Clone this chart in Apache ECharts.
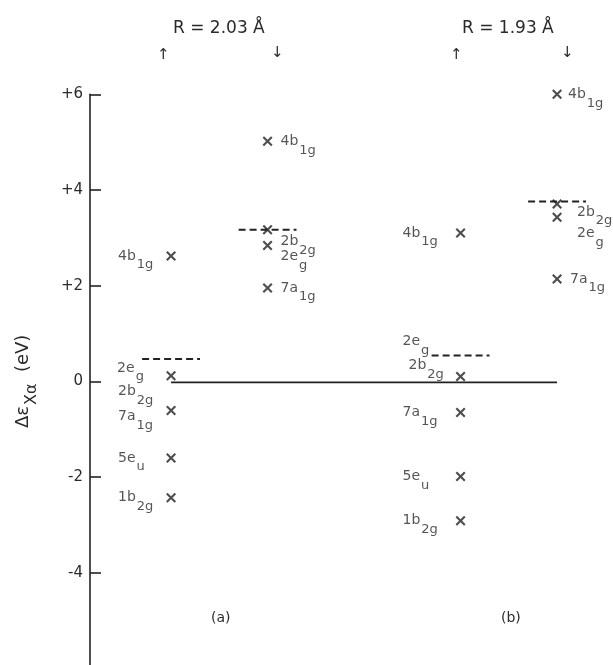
<!DOCTYPE html>
<html>
<head>
<meta charset="utf-8">
<script src="https://cdn.jsdelivr.net/npm/echarts@6/dist/echarts.min.js"></script>
<style>
  html, body { margin: 0; padding: 0; background: #fff; }
  #chart { width: 613px; height: 665px; }
</style>
</head>
<body>
<div id="chart"></div>
<script>
// column positions on the hidden x axis: (a) up, (a) down, (b) up, (b) down
const columns = [1, 2, 4, 5];

// orbital levels (eV)
const levelsAUp = [2.62, 0.12, -0.61, -1.60, -2.43];
const namesAUp = ['4b_1g', '2b_2g', '7a_1g', '5e_u', '1b_2g'];
const levelsADown = [5.02, 3.17, 2.84, 1.95];
const namesADown = ['4b_1g', '2b_2g', '2e_g', '7a_1g'];
const levelsBUp = [3.10, 0.10, -0.65, -1.99, -2.91];
const namesBUp = ['4b_1g', '2b_2g', '7a_1g', '5e_u', '1b_2g'];
const levelsBDown = [6.00, 3.71, 3.43, 2.14];
const namesBDown = ['4b_1g', '2b_2g', '2e_g', '7a_1g'];

// dashed levels, one per column
const dashedLevels = [0.47, 3.17, 0.54, 3.76];
const dashedNames = ['2e_g', '', '2e_g', ''];
const zeroLevel = -0.02;

const yTicks = [-6, -4, -2, 0, 2, 4, 6];

// label offsets in px relative to the mark
const offsAUp = [[-53, 0], [-53, 16], [-53, 6], [-53, 0], [-53, 0]];
const offsADown = [[13, 0], [13, 12], [13, 11], [13, 0]];
const offsBUp = [[-58, 0], [-52, -11], [-58, 0], [-58, 0], [-58, 0]];
const offsBDown = [[11, 0], [20, 8], [20, 16], [13, 0]];
const offsDashed = [[-25, 9], [0, 0], [-29, -14], [0, 0]];

const ink = '#222';
const font = 'DejaVu Sans';

function richName(n) {
  if (!n) return '';
  const p = n.split('_');
  return '{m|' + p[0] + '}{s|' + p[1] + '}';
}

const rich = {
  m: { fontSize: 14, fontFamily: font, color: '#2a2a2a' },
  s: { fontSize: 13, fontFamily: font, color: '#2a2a2a', padding: [18, 0, 0, 1] }
};

function markData(col, vals, names, offs) {
  return vals.map((v, i) => ({
    value: [col, v],
    name: names[i],
    label: { offset: offs[i] }
  }));
}

const marks = [].concat(
  markData(columns[0], levelsAUp, namesAUp, offsAUp),
  markData(columns[1], levelsADown, namesADown, offsADown),
  markData(columns[2], levelsBUp, namesBUp, offsBUp),
  markData(columns[3], levelsBDown, namesBDown, offsBDown)
);

const halfWidth = 0.3;
const dashedSeries = dashedLevels.map((v, i) => ({
  type: 'line',
  data: [[columns[i] - halfWidth, v], [columns[i] + halfWidth, v]],
  symbol: 'none',
  lineStyle: { color: ink, width: 2, type: [7, 4] },
  silent: true,
  z: 2
}));

const dashedLabels = dashedLevels.map((v, i) => ({
  value: [columns[i] - halfWidth, v],
  name: dashedNames[i],
  label: { offset: offsDashed[i] }
}));

const xMark = 'path://M0,3L3,0L10,7L17,0L20,3L13,10L20,17L17,20L10,13L3,20L0,17L7,10Z';

const chart = echarts.init(document.getElementById('chart'));
chart.setOption({
  animation: false,
  backgroundColor: '#fff',
  grid: { left: 90, top: 94.3, width: 515.3, height: 574.2, outerBoundsMode: 'none', containLabel: false },
  xAxis: {
    type: 'value', min: 0.16, max: 5.5, show: false
  },
  yAxis: {
    type: 'value', min: yTicks[0], max: yTicks[yTicks.length - 1], interval: 2,
    name: '{a|Δε}{b|Xα}{a|  (eV)}',
    nameLocation: 'middle',
    nameGap: 50,
    nameTextStyle: {
      rich: {
        a: { fontSize: 18, fontFamily: font, color: '#2a2a2a' },
        b: { fontSize: 16, fontFamily: font, color: '#2a2a2a', padding: [18, 0, 0, 1] }
      }
    },
    splitLine: { show: false },
    axisLine: { show: true, lineStyle: { color: ink, width: 1.6 } },
    axisTick: { show: true, inside: true, length: 11, lineStyle: { color: ink, width: 1.6 } },
    axisLabel: {
      margin: 7, fontSize: 15, fontFamily: font, color: '#2a2a2a',
      formatter: v => v === yTicks[0] ? '' : (v > 0 ? '+' + v : String(v))
    }
  },
  series: [
    {
      type: 'line',
      data: [[columns[0], zeroLevel], [columns[3], zeroLevel]],
      symbol: 'none',
      lineStyle: { color: ink, width: 1.6 },
      silent: true,
      z: 1
    },
    ...dashedSeries,
    {
      type: 'scatter',
      data: marks,
      symbol: xMark,
      symbolSize: 10,
      itemStyle: { color: ink },
      label: {
        show: true, position: 'inside', align: 'left', verticalAlign: 'middle',
        formatter: p => richName(p.name), rich: rich
      },
      z: 3
    },
    {
      type: 'scatter',
      data: dashedLabels,
      symbol: 'circle',
      symbolSize: 1,
      itemStyle: { color: 'rgba(0,0,0,0)' },
      label: {
        show: true, position: 'inside', align: 'left', verticalAlign: 'middle',
        formatter: p => richName(p.name), rich: rich
      },
      z: 3
    }
  ],
  graphic: [
    { type: 'text', left: 173, top: 20, style: { text: 'R = 2.03 Å', font: '17px "DejaVu Sans"', fill: '#2a2a2a' } },
    { type: 'text', left: 462, top: 20, style: { text: 'R = 1.93 Å', font: '17px "DejaVu Sans"', fill: '#2a2a2a' } },
    { type: 'text', left: 157, top: 48, style: { text: '↑', font: '15px "DejaVu Sans"', fill: '#2a2a2a' } },
    { type: 'text', left: 271, top: 46, style: { text: '↓', font: '15px "DejaVu Sans"', fill: '#2a2a2a' } },
    { type: 'text', left: 450, top: 48, style: { text: '↑', font: '15px "DejaVu Sans"', fill: '#2a2a2a' } },
    { type: 'text', left: 561, top: 46, style: { text: '↓', font: '15px "DejaVu Sans"', fill: '#2a2a2a' } },
    { type: 'text', left: 211, top: 611, style: { text: '(a)', font: '14px "DejaVu Sans"', fill: '#2a2a2a' } },
    { type: 'text', left: 501, top: 611, style: { text: '(b)', font: '14px "DejaVu Sans"', fill: '#2a2a2a' } }
  ]
});
</script>
</body>
</html>
